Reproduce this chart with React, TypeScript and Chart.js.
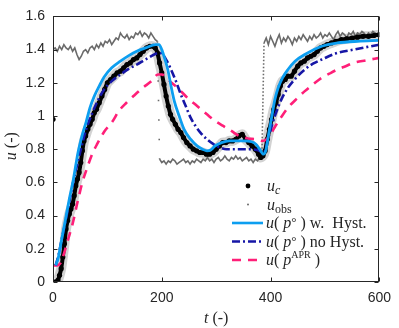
import React, { useEffect, useRef } from "react";
import { Chart, registerables } from "chart.js";

Chart.register(...registerables);

// ---- data ----
const xTicks = [0, 200, 400, 600];
const yTickStep = 0.2;

const obsStep = 4; // observation sampling interval (t units)
const obsU = [
  1.40, 1.41, 1.39, 1.42, 1.40, 1.43, 1.41, 1.40, 1.42, 1.39,
  1.41, 1.37, 1.34, 1.36, 1.39, 1.40, 1.38, 1.41, 1.42, 1.40,
  1.43, 1.41, 1.44, 1.42, 1.45, 1.44, 1.46, 1.43, 1.45, 1.47,
  1.46, 1.50, 1.48, 1.47, 1.49, 1.46, 1.48, 1.47, 1.50, 1.49,
  1.51, 1.48, 1.50, 1.49, 1.47, 1.50, 1.48, 1.46, 1.45,
  0.74, 0.72, 0.73, 0.71, 0.73, 0.72, 0.74, 0.73, 0.71, 0.72,
  0.73, 0.74, 0.72, 0.73, 0.71, 0.73, 0.72, 0.74, 0.73, 0.72,
  0.74, 0.73, 0.75, 0.73, 0.74, 0.72, 0.74, 0.75, 0.73, 0.74,
  0.76, 0.74, 0.73, 0.75, 0.74, 0.76, 0.74, 0.75, 0.73, 0.74,
  0.75, 0.73, 0.74, 0.72, 0.74, 0.73, 0.75, 0.74,
  1.44, 1.47, 1.43, 1.48, 1.45, 1.42, 1.46, 1.49, 1.44, 1.47,
  1.45, 1.48, 1.46, 1.43, 1.47, 1.45, 1.48, 1.46, 1.49, 1.47,
  1.45, 1.48, 1.46, 1.49, 1.47, 1.48, 1.50, 1.47, 1.49, 1.48,
  1.50, 1.48, 1.46, 1.49, 1.51, 1.48, 1.50, 1.49, 1.47, 1.50,
  1.49, 1.51, 1.48, 1.50, 1.49, 1.51, 1.50, 1.48, 1.50, 1.49,
  1.51, 1.50, 1.49, 1.50,
];

const uCT = [0,3,6,9,12,15,18,21,24,27,30,33,36,39,42,45,48,51,54,57,60,64,68,72,76,80,85,90,95,100,106,112,118,124,130,136,142,148,154,160,166,172,178,184,188,192,196,200,204,208,212,216,220,225,230,235,240,246,252,258,264,270,276,282,288,294,300,306,312,318,324,330,336,342,348,354,360,366,372,378,382,386,390,394,398,402,406,410,414,418,422,427,432,438,444,450,456,462,468,474,480,486,492,498,504,512,520,530,540,550,560,570,580,590,600];
const uCU = [0.98,0.0,0.0,0.01,0.04,0.08,0.15,0.23,0.32,0.37,0.41,0.44,0.47,0.52,0.58,0.62,0.66,0.72,0.79,0.85,0.88,0.92,0.95,0.98,1.02,1.04,1.08,1.12,1.16,1.20,1.22,1.24,1.26,1.27,1.29,1.31,1.32,1.34,1.35,1.37,1.39,1.41,1.42,1.42,1.41,1.38,1.32,1.26,1.19,1.12,1.06,1.01,0.98,0.95,0.92,0.90,0.87,0.84,0.82,0.80,0.79,0.78,0.78,0.77,0.77,0.78,0.80,0.82,0.84,0.84,0.85,0.85,0.86,0.88,0.89,0.86,0.84,0.82,0.80,0.77,0.75,0.76,0.79,0.86,0.92,0.98,1.04,1.08,1.13,1.18,1.21,1.22,1.24,1.24,1.27,1.30,1.32,1.33,1.35,1.36,1.37,1.39,1.41,1.42,1.43,1.44,1.45,1.46,1.465,1.47,1.475,1.48,1.48,1.485,1.49];

const wHystT = [5,10,15,22,30,37,46,55,61,68,76,85,94,108,124,140,154,170,189,195,200,205,211,217,223,232,241,253,265,275,283,290,298,310,324,349,365,373,380,387,391,397,403,408,414,422,432,445,463,494,523,560,600];
const wHystU = [0.10,0.15,0.24,0.36,0.50,0.61,0.78,0.90,0.965,1.05,1.12,1.18,1.235,1.29,1.33,1.365,1.39,1.41,1.43,1.43,1.40,1.35,1.28,1.18,1.09,1.00,0.92,0.86,0.82,0.80,0.79,0.795,0.82,0.84,0.85,0.85,0.845,0.83,0.80,0.77,0.79,0.90,1.01,1.10,1.17,1.23,1.28,1.33,1.37,1.42,1.44,1.45,1.455];

const noHystT = [5,10,15,22,30,37,44,52,61,70,82,94,108,124,140,154,175,195,200,208,217,226,235,244,253,262,271,283,295,307,319,340,360,375,387,397,403,409,420,432,447,463,478,494,523,553,600];
const noHystU = [0.10,0.16,0.24,0.35,0.48,0.60,0.70,0.81,0.92,1.00,1.09,1.16,1.21,1.25,1.285,1.31,1.35,1.38,1.375,1.34,1.28,1.21,1.13,1.06,0.99,0.94,0.90,0.86,0.83,0.81,0.80,0.80,0.80,0.795,0.78,0.88,0.95,1.01,1.10,1.17,1.23,1.28,1.315,1.34,1.38,1.40,1.43];

const aprT = [0,8,14,20,28,36,45,54,63,72,81,95,109,121,135,148,165,181,193,200,211,229,247,265,283,298,313,328,342,358,373,385,391,400,409,420,432,447,463,478,494,508,523,538,553,575,600];
const aprU = [0.10,0.10,0.115,0.17,0.26,0.35,0.48,0.60,0.69,0.77,0.83,0.91,0.965,1.03,1.08,1.12,1.17,1.21,1.25,1.25,1.22,1.17,1.11,1.06,1.01,0.97,0.94,0.91,0.88,0.865,0.86,0.85,0.855,0.89,0.94,0.995,1.05,1.10,1.15,1.19,1.23,1.255,1.28,1.30,1.32,1.335,1.35];

// ---- style ----
const C_LIGHT = "#0c9ef0";
const C_DARK = "#1616a6";
const C_PINK = "#ff1f78";
const C_OBS = "#6a6a6a";
const C_BAND = "#d2d2d2";
const C_AX = "#262626";

const pts = (t: number[], u: number[]) => t.map((x, i) => ({ x, y: u[i] }));

const SERIF = "'Liberation Serif', 'Times New Roman', serif";

type Part = { t: string; f: string; dy?: number };

function rich(ctx: CanvasRenderingContext2D, x: number, y: number, parts: Part[]) {
  for (const p of parts) {
    ctx.font = p.f;
    ctx.fillText(p.t, x, y + (p.dy || 0));
    x += ctx.measureText(p.t).width;
  }
}

const IT = `italic 16px ${SERIF}`;
const RM = `16px ${SERIF}`;
const SUB_IT = `italic 12px ${SERIF}`;
const SUB_RM = `12px ${SERIF}`;
const SUP_RM = `10px ${SERIF}`;

const decor = {
  id: "decor",
  afterDraw(chart: any) {
    const { ctx, chartArea: a, scales } = chart;
    const xs = scales.x;
    const ys = scales.y;
    ctx.save();
    ctx.strokeStyle = C_AX;
    ctx.lineWidth = 1;
    const L = Math.round(a.left) + 0.5;
    const R = Math.round(a.right) - 0.5;
    const T = Math.round(a.top) + 0.5;
    const B = Math.round(a.bottom) - 0.5;
    ctx.strokeRect(L, T, R - L, B - T);
    const tl = 4;
    ctx.beginPath();
    ys.ticks.forEach((tk: any) => {
      const y = Math.round(ys.getPixelForValue(tk.value)) + 0.5;
      ctx.moveTo(L, y); ctx.lineTo(L + tl, y);
      ctx.moveTo(R, y); ctx.lineTo(R - tl, y);
    });
    xs.ticks.forEach((tk: any) => {
      const x = Math.round(xs.getPixelForValue(tk.value)) + 0.5;
      ctx.moveTo(x, B); ctx.lineTo(x, B - tl);
      ctx.moveTo(x, T); ctx.lineTo(x, T + tl);
    });
    ctx.stroke();

    // axis titles
    ctx.fillStyle = C_AX;
    ctx.textBaseline = "alphabetic";
    ctx.textAlign = "left";
    const cx = (a.left + a.right) / 2;
    ctx.font = IT;
    const w1 = ctx.measureText("t ").width;
    ctx.font = RM;
    const w2 = ctx.measureText("(-)").width;
    rich(ctx, cx - (w1 + w2) / 2, 323, [
      { t: "t ", f: IT },
      { t: "(-)", f: RM },
    ]);
    ctx.save();
    const cy = (a.top + a.bottom) / 2 - 3;
    ctx.translate(16, cy);
    ctx.rotate(-Math.PI / 2);
    ctx.font = IT;
    const v1 = ctx.measureText("u ").width;
    ctx.font = RM;
    const v2 = ctx.measureText("(-)").width;
    rich(ctx, -(v1 + v2) / 2, 0, [
      { t: "u ", f: IT },
      { t: "(-)", f: RM },
    ]);
    ctx.restore();

    // legend
    const rows = [186, 204.5, 223, 241.5, 260];
    const sx0 = 232, sx1 = 263, tx = 267;
    ctx.fillStyle = "#000";
    ctx.beginPath(); ctx.arc(248, rows[0], 2.4, 0, Math.PI * 2); ctx.fill();
    ctx.fillStyle = C_OBS;
    ctx.beginPath(); ctx.arc(248, rows[1], 1, 0, Math.PI * 2); ctx.fill();
    ctx.lineCap = "butt";
    const seg = (y: number, color: string, dash: number[]) => {
      ctx.strokeStyle = color; ctx.lineWidth = 2.6; ctx.setLineDash(dash);
      ctx.beginPath(); ctx.moveTo(sx0, y); ctx.lineTo(sx1, y); ctx.stroke();
    };
    seg(rows[2], C_LIGHT, []);
    seg(rows[3], C_DARK, [8, 3, 2, 3]);
    seg(rows[4], C_PINK, [9, 7]);
    ctx.setLineDash([]);
    ctx.fillStyle = C_AX;
    const off = 5;
    rich(ctx, tx, rows[0] + off, [
      { t: "u", f: IT },
      { t: "c", f: SUB_IT, dy: 3 },
    ]);
    rich(ctx, tx, rows[1] + off, [
      { t: "u", f: IT },
      { t: "obs", f: SUB_RM, dy: 3 },
    ]);
    const pdeg: Part[] = [
      { t: "u", f: IT },
      { t: "( ", f: RM },
      { t: "p", f: IT },
      { t: "\u00B0", f: `13px ${SERIF}`, dy: -2 },
      { t: " )", f: RM },
    ];
    rich(ctx, tx - 1, rows[2] + off, [...pdeg, { t: " w.  Hyst.", f: RM }]);
    rich(ctx, tx - 1, rows[3] + off, [...pdeg, { t: " no Hyst.", f: RM }]);
    rich(ctx, tx - 1, rows[4] + off, [
      { t: "u", f: IT },
      { t: "( ", f: RM },
      { t: "p", f: IT },
      { t: "APR", f: SUP_RM, dy: -7 },
      { t: " )", f: RM },
    ]);
    ctx.restore();
  },
};

export default function App() {
  const ref = useRef<HTMLCanvasElement | null>(null);
  useEffect(() => {
    if (!ref.current) return;
    const obsData = obsU.map((y, i) => ({ x: i * obsStep, y }));
    const chart = new Chart(ref.current, {
      type: "line",
      data: {
        datasets: [
          {
            label: "u(p°) w. Hyst.",
            data: pts(wHystT, wHystU),
            borderColor: C_LIGHT,
            borderWidth: 2.8,
            pointRadius: 0,
            cubicInterpolationMode: "monotone",
          },
          {
            label: "u(p°) no Hyst.",
            data: pts(noHystT, noHystU),
            borderColor: C_DARK,
            borderWidth: 2.6,
            borderDash: [8, 3, 2, 3],
            pointRadius: 0,
            cubicInterpolationMode: "monotone",
          },
          {
            label: "u(p^APR)",
            data: pts(aprT, aprU),
            borderColor: C_PINK,
            borderWidth: 2.6,
            borderDash: [9, 7],
            pointRadius: 0,
            cubicInterpolationMode: "monotone",
          },
          {
            label: "u_c",
            data: pts(uCT, uCU),
            showLine: false,
            pointRadius: 2.6,
            pointBackgroundColor: "#000",
            pointBorderWidth: 0,
            borderColor: "#000",
          },
          {
            label: "u_c trace",
            data: pts(uCT.slice(1), uCU.slice(1)),
            borderColor: "#000",
            borderWidth: 4,
            pointRadius: 0,
            tension: 0.2,
          },
          {
            label: "u_obs",
            data: obsData,
            borderColor: C_OBS,
            borderWidth: 1.6,
            pointRadius: 0,
            tension: 0,
            segment: {
              borderDash: (c: any) =>
                Math.abs(c.p1.parsed.y - c.p0.parsed.y) > 0.3
                  ? c.p0.parsed.x < 300
                    ? [1.5, 18]
                    : [1.5, 2]
                  : undefined,
            },
          },
          {
            label: "band",
            data: pts(uCT.slice(1), uCU.slice(1)),
            borderColor: C_BAND,
            borderWidth: 10,
            pointRadius: 0,
            tension: 0.2,
          },
        ],
      },
      options: {
        animation: false,
        responsive: false,
        devicePixelRatio: 1,
        layout: { padding: { left: 0, top: 5, right: 13, bottom: 0 } },
        plugins: { legend: { display: false }, tooltip: { enabled: false } },
        scales: {
          x: {
            type: "linear",
            min: 0,
            max: 600,
            afterBuildTicks: (s: any) => {
              s.ticks = xTicks.map((v) => ({ value: v }));
            },
            afterFit: (s: any) => {
              s.height = 46;
            },
            grid: { display: false, drawTicks: false },
            border: { display: false },
            ticks: {
              color: C_AX,
              padding: 8,
              font: { family: "'Liberation Sans', Arial, sans-serif", size: 14 },
              maxRotation: 0,
              callback: (v: any) => String(v),
            },
          },
          y: {
            type: "linear",
            min: 0,
            max: 1.6,
            ticks: {
              stepSize: yTickStep,
              color: C_AX,
              padding: 8,
              font: { family: "'Liberation Sans', Arial, sans-serif", size: 14 },
              callback: (v: any) => String(Math.round(Number(v) * 10) / 10),
            },
            afterFit: (s: any) => {
              s.width = 53;
            },
            grid: { display: false, drawTicks: false },
            border: { display: false },
          },
        },
      },
      plugins: [decor],
    } as any);
    return () => chart.destroy();
  }, []);
  return (
    <div style={{ position: "absolute", left: 0, top: 0, width: 399, height: 328, background: "#fff" }}>
      <canvas ref={ref} width={399} height={328} />
    </div>
  );
}
